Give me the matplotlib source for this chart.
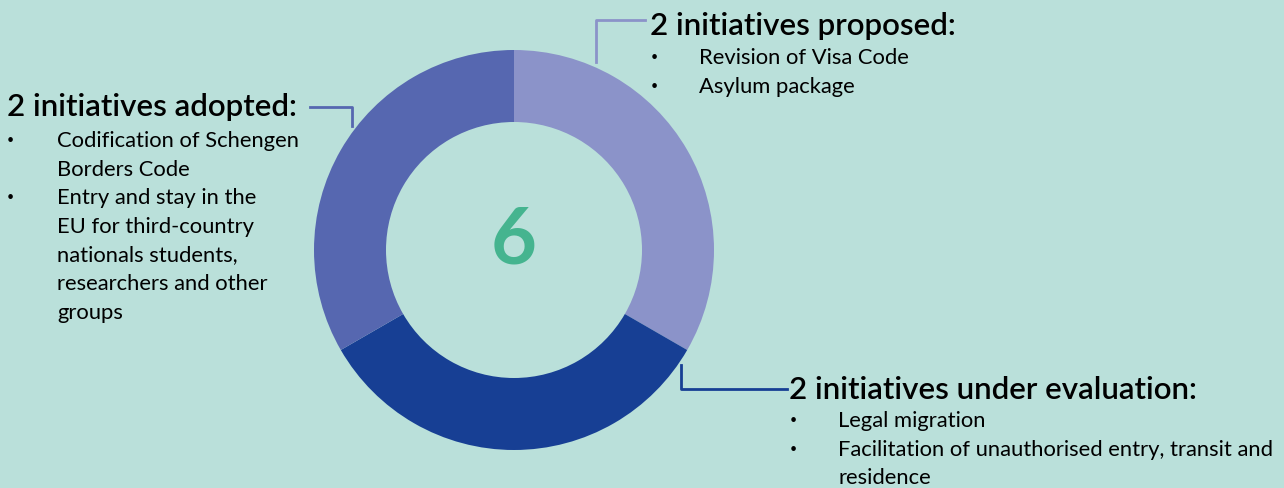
import matplotlib.pyplot as plt

W, H = 1284, 488
BG = "#bae0da"

counts = [2, 2, 2]
labels = ["proposed", "under evaluation", "adopted"]
colors = ["#8b93c9", "#173f94", "#5667b0"]
total = sum(counts)

proposed_items = ["Revision of Visa Code", "Asylum package"]
adopted_items = [["Codification of Schengen", "Borders Code"],
                 ["Entry and stay in the", "EU for third-country",
                  "nationals students,", "researchers and other", "groups"]]
evaluation_items = [["Legal migration"],
                    ["Facilitation of unauthorised entry, transit and", "residence"]]

plt.rcParams['font.family'] = ['Lato', 'DejaVu Sans']

fig = plt.figure(figsize=(W / 100, H / 100), dpi=100, facecolor=BG)
ax = fig.add_axes([0, 0, 1, 1])

def Y(y):
    # image pixel row -> data y
    return H - y

cx, cy, r_out, r_in = 514, 250, 200, 128
ax.pie(counts, colors=colors, startangle=90, counterclock=False,
       center=(cx, Y(cy)), radius=r_out, frame=True,
       wedgeprops=dict(width=r_out - r_in, linewidth=0))
ax.set_xlim(0, W)
ax.set_ylim(0, H)
ax.set_aspect('equal')
ax.axis('off')

ax.text(cx, Y(cy - 8), str(total), color="#45b48f", fontsize=57,
        fontweight='bold', ha='center', va='center')

TITLE_FS = 22.5
ITEM_FS = 15.8
LINE = 28.6

def block(x, y, title, items, bx, tx, y0):
    ax.text(x, Y(y), title, fontsize=TITLE_FS, fontweight='semibold',
            color='black', ha='left', va='center')
    yy = y0
    for item in items:
        if isinstance(item, str):
            item = [item]
        ax.text(bx, Y(yy), "\u2022", fontsize=9, ha='left', va='center')
        for line in item:
            ax.text(tx, Y(yy + 1), line, fontsize=ITEM_FS, ha='left', va='center')
            yy += LINE

block(650, 26, "2 initiatives proposed:", proposed_items, 651, 699, 57)
block(7, 107, "2 initiatives adopted:", adopted_items, 7, 57, 140)
block(789, 390, "2 initiatives under evaluation:", evaluation_items, 790, 838, 420)

# leader lines
ax.plot([596, 596, 645], [Y(62), Y(20), Y(20)], color=colors[0], lw=2)
ax.plot([310, 352, 352], [Y(107), Y(107), Y(126)], color=colors[2], lw=2)
ax.plot([681, 681, 787], [Y(365), Y(389), Y(389)], color=colors[1], lw=2)

fig.savefig("out.png", dpi=100, facecolor=BG)
